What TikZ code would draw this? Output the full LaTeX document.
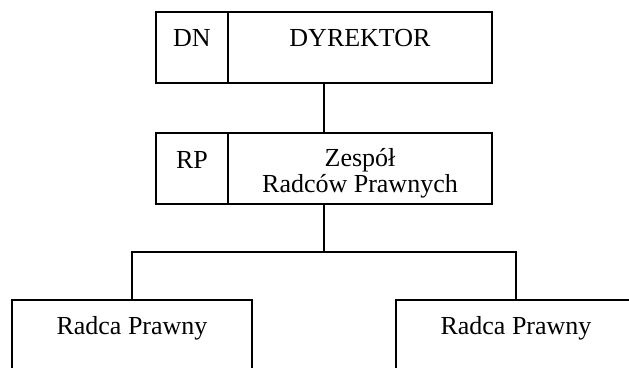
\documentclass[tikz,border=0pt]{standalone}
\usepackage{fontspec}
\setmainfont{Liberation Serif}
\usetikzlibrary{positioning, calc}

\tikzset{
  cell/.style={draw, rectangle, line width=0.65pt, outer sep=0pt, inner xsep=0pt, inner ysep=0pt,
    font=\fontsize{13}{13}\selectfont},
  link/.style={line width=0.65pt},
}

\begin{document}
\begin{tikzpicture}[x=0.5pt, y=-0.5pt]
\clip (0,0) rectangle (629,368);

\node(dn)[cell, minimum width=36pt, text height=17.5pt, text depth=18pt, anchor=north west] at (156,12){DN};
\node(dyr)[cell, minimum width=132pt, text height=17.5pt, text depth=18pt, right=0pt of dn]{DYREKTOR};

\node(rp)[cell, minimum width=36pt, text height=18pt, text depth=17.5pt, anchor=north west] at (156,133){RP};
\node(zesp)[cell, minimum width=132pt, text height=30pt, text depth=5.5pt, align=center, right=0pt of rp]{Zespół\\Radców Prawnych};

\node(rad1)[cell, minimum width=120pt, text height=17.5pt, text depth=24pt, anchor=north] at (132,300){Radca Prawny};
\node(rad2)[cell, minimum width=120pt, text height=17.5pt, text depth=24pt, anchor=north] at (516,300){Radca Prawny};

\coordinate(fork) at (324,252);
\draw[link] ($(dn.south west)!.5!(dyr.south east)$) -- ($(rp.north west)!.5!(zesp.north east)$);
\draw[link] ($(rp.south west)!.5!(zesp.south east)$) -- (fork);
\draw[link] (rad1.north) |- (fork) -| (rad2.north);
\end{tikzpicture}
\end{document}
